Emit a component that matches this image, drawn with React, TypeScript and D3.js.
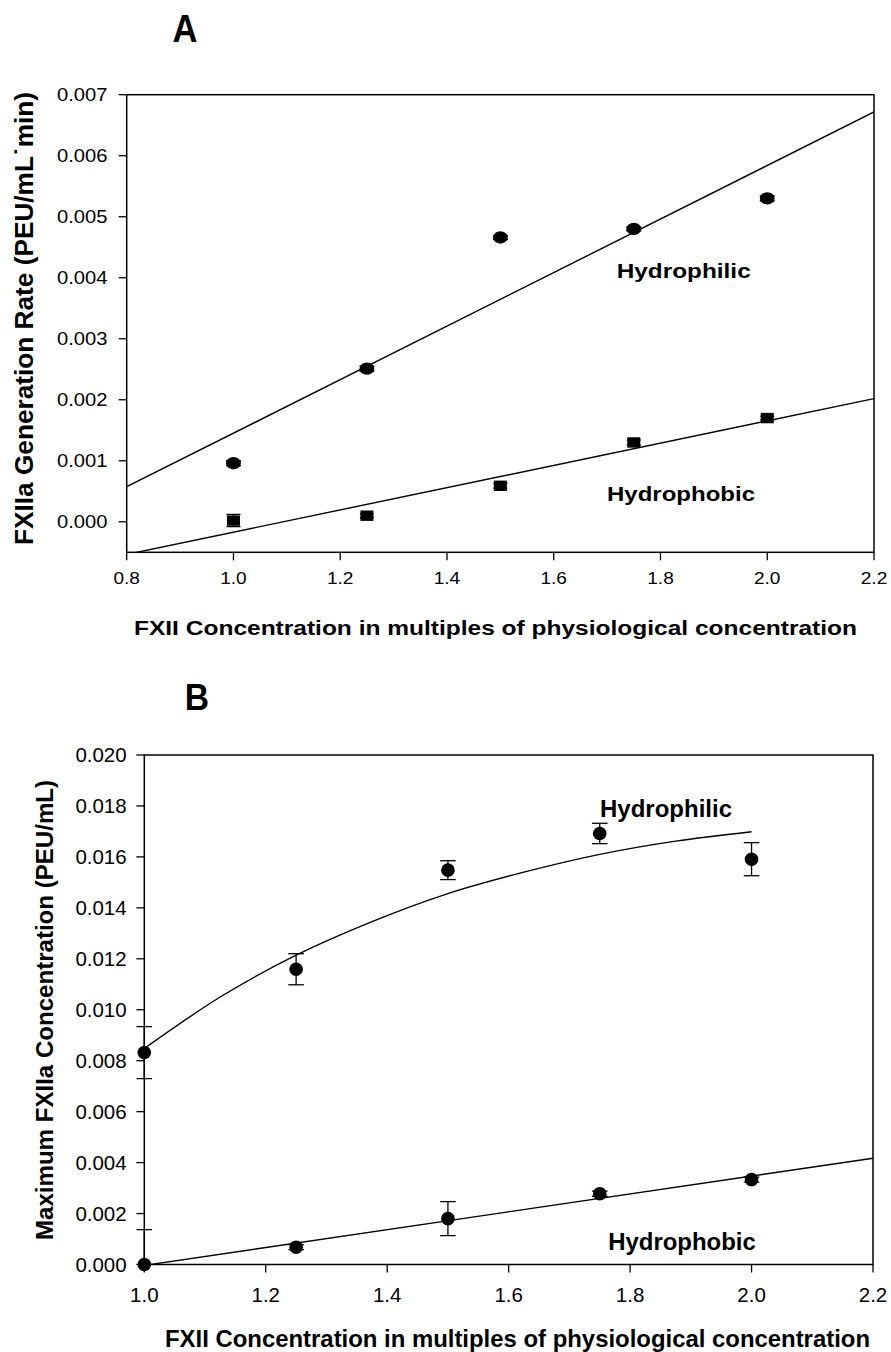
import React from "react";
import * as d3 from "d3";

// ---- Panel A: FXIIa generation rate ----
const A_X = [1.0, 1.25, 1.5, 1.75, 2.0];
const A_PHILIC = [0.00096, 0.00251, 0.00466, 0.0048, 0.0053];
const A_PHILIC_ERR = [0.00004, 0.00004, 0.00003, 0.00003, 0.00004];
const A_PHOBIC = [0.00002, 0.0001, 0.00059, 0.0013, 0.0017];
const A_PHOBIC_ERR = [0.0001, 0.00003, 0.00004, 0.00004, 0.00003];
const A_X_TICKS = [0.8, 1.0, 1.2, 1.4, 1.6, 1.8, 2.0, 2.2];
const A_Y_TICKS = [0.0, 0.001, 0.002, 0.003, 0.004, 0.005, 0.006, 0.007];

// ---- Panel B: maximum FXIIa concentration ----
const B_X = [1.0, 1.25, 1.5, 1.75, 2.0];
const B_PHILIC = [0.00832, 0.01159, 0.01548, 0.01692, 0.01591];
const B_PHILIC_ERR = [0.00102, 0.00061, 0.00037, 0.0004, 0.00065];
const B_PHOBIC = [0.0, 0.00068, 0.0018, 0.00278, 0.00333];
const B_PHOBIC_ERR = [0.00137, 0.0001, 0.00067, 0.0001, 0.0001];
// saturating fit curve for the hydrophilic series
const B_CURVE_X = [1.0, 1.125, 1.25, 1.375, 1.5, 1.625, 1.75, 1.875, 2.0];
const B_CURVE_Y = [0.00848, 0.0105, 0.01214, 0.01346, 0.01456, 0.0154, 0.0161, 0.01662, 0.01699];
const B_X_TICKS = [1.0, 1.2, 1.4, 1.6, 1.8, 2.0, 2.2];
const B_Y_TICKS = [0, 0.002, 0.004, 0.006, 0.008, 0.01, 0.012, 0.014, 0.016, 0.018, 0.02];

const X_TITLE = "FXII Concentration in multiples of physiological concentration";
const FONT = "'Liberation Sans', Arial, Helvetica, sans-serif";

// least-squares straight line
function linFit(xs: number[], ys: number[]) {
  const mx = d3.mean(xs)!;
  const my = d3.mean(ys)!;
  let num = 0;
  let den = 0;
  xs.forEach((x, i) => {
    num += (x - mx) * (ys[i] - my);
    den += (x - mx) * (x - mx);
  });
  const slope = num / den;
  return (x: number) => my + slope * (x - mx);
}

export default function App() {
  // scales
  const ax = d3.scaleLinear().domain([0.8, 2.2]).range([126.7, 874]);
  const ay = d3.scaleLinear().domain([-0.0005, 0.007]).range([552.3, 94.7]);
  const bx = d3.scaleLinear().domain([1.0, 2.2]).range([144.3, 873]);
  const by = d3.scaleLinear().domain([0, 0.02]).range([1264.5, 755]);

  const fitAPhilic = linFit(A_X, A_PHILIC);
  const fitAPhobic = linFit(A_X, A_PHOBIC);
  const fitBPhobic = linFit(B_X, B_PHOBIC);

  const line = d3.line<[number, number]>();
  const aDom = ax.domain();
  const aPhilicPath = line([
    [ax(aDom[0]), ay(fitAPhilic(aDom[0]))],
    [ax(aDom[1]), ay(fitAPhilic(aDom[1]))],
  ]);
  const aPhobicPath = line([
    [ax(aDom[0]), ay(fitAPhobic(aDom[0]))],
    [ax(aDom[1]), ay(fitAPhobic(aDom[1]))],
  ]);
  const bDom = bx.domain();
  const bPhobicPath = line([
    [bx(bDom[0]), by(fitBPhobic(bDom[0]))],
    [bx(bDom[1]), by(fitBPhobic(bDom[1]))],
  ]);
  const bCurve = d3
    .line<number>()
    .x((d, i) => bx(B_CURVE_X[i]))
    .y((d) => by(d))
    .curve(d3.curveMonotoneX)(B_CURVE_Y);

  const fmt3 = d3.format(".3f");
  const fmt1 = d3.format(".1f");
  const sw = 1.4;

  const errBars = (
    xs: number[],
    ys: number[],
    es: number[],
    sx: any,
    sy: any,
    cap: number,
    key: string
  ) =>
    xs.map((x, i) => {
      const cx = sx(x);
      const y1 = sy(ys[i] + es[i]);
      const y2 = sy(ys[i] - es[i]);
      return (
        <g key={key + i} stroke="#000" strokeWidth={1.3}>
          <line x1={cx} x2={cx} y1={y1} y2={y2} />
          <line x1={cx - cap} x2={cx + cap} y1={y1} y2={y1} />
          <line x1={cx - cap} x2={cx + cap} y1={y2} y2={y2} />
        </g>
      );
    });

  return (
    <svg
      width={891}
      height={1352}
      style={{ position: "absolute", left: 0, top: 0, background: "#fff" }}
      fontFamily={FONT}
    >
      <rect x={0} y={0} width={891} height={1352} fill="#fff" />
      <defs>
        <clipPath id="clipA">
          <rect x={ax.range()[0]} y={ay.range()[1]} width={ax.range()[1] - ax.range()[0]} height={ay.range()[0] - ay.range()[1]} />
        </clipPath>
        <clipPath id="clipAErr">
          <rect x={0} y={ay.range()[1]} width={891} height={ay.range()[0] - ay.range()[1]} />
        </clipPath>
        <clipPath id="clipB">
          <rect x={bx.range()[0]} y={by.range()[1]} width={bx.range()[1] - bx.range()[0]} height={by.range()[0] - by.range()[1]} />
        </clipPath>
        <clipPath id="clipBErr">
          <rect x={0} y={by.range()[1] - 2} width={891} height={by.range()[0] - by.range()[1] + 2} />
        </clipPath>
      </defs>

      {/* ================= Panel A ================= */}
      <text x={185} y={42} fontSize={39} fontWeight="bold" textAnchor="middle" textLength={25} lengthAdjust="spacingAndGlyphs">
        A
      </text>

      {/* frame */}
      <rect
        x={ax.range()[0]}
        y={ay.range()[1]}
        width={ax.range()[1] - ax.range()[0]}
        height={ay.range()[0] - ay.range()[1]}
        fill="none"
        stroke="#000"
        strokeWidth={1.5}
      />
      {/* y ticks */}
      {A_Y_TICKS.map((t) => (
        <g key={"ay" + t}>
          <line x1={ax.range()[0] - 8} x2={ax.range()[0]} y1={ay(t)} y2={ay(t)} stroke="#000" strokeWidth={1.3} />
          <text x={107.5} y={ay(t) + 6.7} fontSize={18.6} textAnchor="end" textLength={50.5} lengthAdjust="spacingAndGlyphs">
            {fmt3(t)}
          </text>
        </g>
      ))}
      {/* x ticks */}
      {A_X_TICKS.map((t) => (
        <g key={"ax" + t}>
          <line x1={ax(t)} x2={ax(t)} y1={ay.range()[0]} y2={ay.range()[0] + 8} stroke="#000" strokeWidth={1.3} />
          <text x={ax(t)} y={584} fontSize={15.8} textAnchor="middle" textLength={26.5} lengthAdjust="spacingAndGlyphs">
            {fmt1(t)}
          </text>
        </g>
      ))}
      <text
        transform="translate(33,318.5) rotate(-90)"
        fontSize={25}
        fontWeight="bold"
        textAnchor="middle"
        textLength={453}
        lengthAdjust="spacingAndGlyphs"
      >
        FXIIa Generation Rate (PEU/mL˙min)
      </text>
      <text x={495.5} y={635} fontSize={20} fontWeight="bold" textAnchor="middle" textLength={723} lengthAdjust="spacingAndGlyphs">
        {X_TITLE}
      </text>

      {/* fitted lines */}
      <g clipPath="url(#clipA)" fill="none" stroke="#000" strokeWidth={sw}>
        <path d={aPhilicPath!} />
        <path d={aPhobicPath!} />
      </g>
      {/* error bars */}
      <g clipPath="url(#clipAErr)">
        {errBars(A_X, A_PHILIC, A_PHILIC_ERR, ax, ay, 7.5, "aep")}
        {errBars(A_X, A_PHOBIC, A_PHOBIC_ERR, ax, ay, 7, "aeb")}
      </g>
      {/* markers */}
      {A_X.map((x, i) => (
        <ellipse key={"apc" + i} cx={ax(x)} cy={ay(A_PHILIC[i])} rx={7.4} ry={6.2} fill="#000" />
      ))}
      {A_X.map((x, i) => (
        <rect key={"aps" + i} x={ax(x) - 6.5} y={ay(A_PHOBIC[i]) - 5.2} width={13} height={10.4} fill="#000" />
      ))}
      <text x={683.7} y={278.3} fontSize={20.5} fontWeight="bold" textAnchor="middle" textLength={134} lengthAdjust="spacingAndGlyphs">
        Hydrophilic
      </text>
      <text x={681} y={501} fontSize={20.5} fontWeight="bold" textAnchor="middle" textLength={148} lengthAdjust="spacingAndGlyphs">
        Hydrophobic
      </text>

      {/* ================= Panel B ================= */}
      <text x={197} y={710} fontSize={37} fontWeight="bold" textAnchor="middle" textLength={24.3} lengthAdjust="spacingAndGlyphs">
        B
      </text>
      <rect
        x={bx.range()[0]}
        y={by.range()[1]}
        width={bx.range()[1] - bx.range()[0]}
        height={by.range()[0] - by.range()[1]}
        fill="none"
        stroke="#000"
        strokeWidth={1.5}
      />
      {B_Y_TICKS.map((t) => (
        <g key={"by" + t}>
          <line x1={bx.range()[0] - 8} x2={bx.range()[0]} y1={by(t)} y2={by(t)} stroke="#000" strokeWidth={1.3} />
          <text x={126.7} y={by(t) + 7.3} fontSize={20.5} textAnchor="end">
            {fmt3(t)}
          </text>
        </g>
      ))}
      {B_X_TICKS.map((t) => (
        <g key={"bx" + t}>
          <line x1={bx(t)} x2={bx(t)} y1={by.range()[0]} y2={by.range()[0] + 8} stroke="#000" strokeWidth={1.3} />
          <text x={bx(t)} y={1301.7} fontSize={20.5} textAnchor="middle">
            {fmt1(t)}
          </text>
        </g>
      ))}
      <text
        transform="translate(53,1010) rotate(-90)"
        fontSize={24}
        fontWeight="bold"
        textAnchor="middle"
        textLength={460}
        lengthAdjust="spacingAndGlyphs"
      >
        Maximum FXIIa Concentration (PEU/mL)
      </text>
      <text x={517.5} y={1346.5} fontSize={24} fontWeight="bold" textAnchor="middle" textLength={705} lengthAdjust="spacingAndGlyphs">
        {X_TITLE}
      </text>

      <g clipPath="url(#clipB)" fill="none" stroke="#000" strokeWidth={sw}>
        <path d={bCurve!} />
        <path d={bPhobicPath!} />
      </g>
      <g clipPath="url(#clipBErr)">
        {errBars(B_X, B_PHILIC, B_PHILIC_ERR, bx, by, 7.8, "bep")}
        {errBars(B_X, B_PHOBIC, B_PHOBIC_ERR, bx, by, 7.8, "beb")}
      </g>
      {B_X.map((x, i) => (
        <circle key={"bpc" + i} cx={bx(x)} cy={by(B_PHILIC[i])} r={6.8} fill="#000" />
      ))}
      {B_X.map((x, i) => (
        <circle key={"bps" + i} cx={bx(x)} cy={by(B_PHOBIC[i])} r={6.8} fill="#000" />
      ))}
      <text x={666} y={816.7} fontSize={24} fontWeight="bold" textAnchor="middle" textLength={132} lengthAdjust="spacingAndGlyphs">
        Hydrophilic
      </text>
      <text x={682} y={1250} fontSize={24} fontWeight="bold" textAnchor="middle" textLength={147.7} lengthAdjust="spacingAndGlyphs">
        Hydrophobic
      </text>
    </svg>
  );
}
